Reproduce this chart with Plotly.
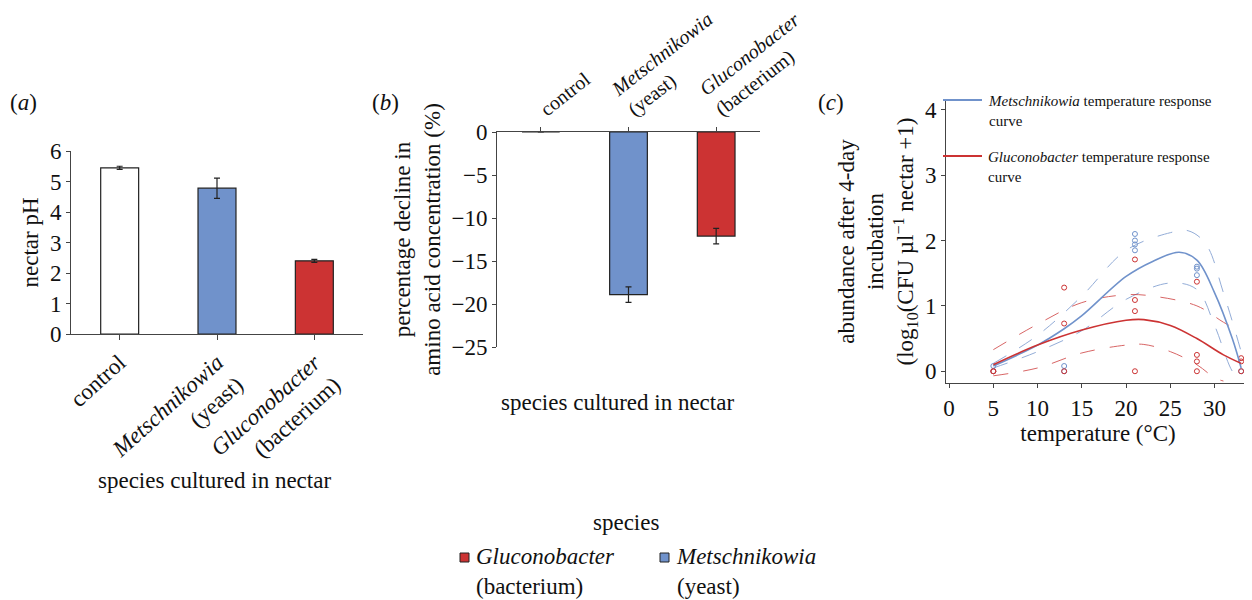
import plotly.graph_objects as go

W, H = 1252, 600
FONT = "Times New Roman, Liberation Serif, DejaVu Serif, serif"
BLUE = "#7092cb"
RED = "#cc3333"

# panel a
cats = ["control", "Metschnikowia", "Gluconobacter"]
a_labels = ["control", "<i>Metschnikowia</i><br>(yeast)", "<i>Gluconobacter</i><br>(bacterium)"]
ph_vals = [5.45, 4.78, 2.40]
ph_err = [0.05, 0.33, 0.05]
# panel b
aa_vals = [0.0, -18.9, -12.1]
aa_err = [0.0, 0.9, 0.9]
# panel c points
t_blue = [5, 5, 13, 13, 21, 21, 21, 21, 28, 28, 28, 33]
y_blue = [0.08, 0, 0.08, 0, 2.1, 2.0, 1.94, 1.85, 1.6, 1.57, 1.47, 0]
t_red = [5, 5, 13, 13, 13, 21, 21, 21, 21, 28, 28, 28, 28, 33, 33, 33]
y_red = [0, 0, 1.28, 0.73, 0, 1.71, 1.09, 0.92, 0, 1.37, 0.25, 0.15, 0, 0.2, 0.15, 0]
# curves
cb_t = [5, 10, 13, 15, 20, 23, 26, 28, 30, 32, 33]
cb_y = [0.08, 0.4, 0.65, 0.85, 1.45, 1.68, 1.82, 1.7, 1.2, 0.5, 0.05]
cbu_t = [5, 10, 15, 20, 25, 27, 29, 31, 33]
cbu_y = [0.12, 0.55, 1.15, 1.85, 2.12, 2.15, 1.95, 1.2, 0.3]
cbl_t = [5, 10, 15, 20, 25, 28, 30, 32, 33]
cbl_y = [0.05, 0.3, 0.62, 1.1, 1.35, 1.25, 0.7, 0.0, -0.15]
cr_t = [5, 10, 15, 20, 22, 25, 28, 31, 33]
cr_y = [0.1, 0.4, 0.63, 0.78, 0.79, 0.7, 0.5, 0.25, 0.12]
cru_t = [5, 10, 15, 20, 23, 28, 31, 33]
cru_y = [0.33, 0.72, 1.05, 1.17, 1.15, 1.0, 0.75, 0.6]
crl_t = [5, 10, 15, 20, 22, 25, 28, 30, 31]
crl_y = [-0.07, 0.05, 0.28, 0.4, 0.41, 0.3, 0.1, -0.1, -0.15]

OFF = 8  # page margin
def px(x): return (x - OFF) / W
def py(y): return 1 - (y - OFF) / H

fig = go.Figure()
fig.add_trace(go.Bar(x=cats, y=ph_vals, marker=dict(color=["white", BLUE, RED], line=dict(color="#222", width=1.2)),
                     error_y=dict(type="data", array=ph_err, color="#222", thickness=1.2, width=3),
                     width=0.39, xaxis="x", yaxis="y", showlegend=False))
fig.add_trace(go.Bar(x=cats, y=aa_vals, marker=dict(color=["white", BLUE, RED], line=dict(color="#222", width=1.2)),
                     error_y=dict(type="data", array=aa_err, color="#222", thickness=1.2, width=3),
                     width=0.43, xaxis="x2", yaxis="y2", showlegend=False))
for t, y, c in [(t_blue, y_blue, BLUE), (t_red, y_red, RED)]:
    fig.add_trace(go.Scatter(x=t, y=y, mode="markers", marker=dict(symbol="circle-open", size=5, color=c, line=dict(width=1)),
                             xaxis="x3", yaxis="y3", showlegend=False))
for t, y, c, d in [(cbu_t, cbu_y, BLUE, "longdash"), (cbl_t, cbl_y, BLUE, "longdash"),
                   (cru_t, cru_y, RED, "longdash"), (crl_t, crl_y, RED, "longdash"),
                   (cb_t, cb_y, BLUE, "solid"), (cr_t, cr_y, RED, "solid")]:
    fig.add_trace(go.Scatter(x=t, y=y, mode="lines", line=dict(color=c, width=1.6 if d == "solid" else 1, dash=d, shape="spline"),
                             opacity=1 if d == "solid" else 0.75, xaxis="x3", yaxis="y3", showlegend=False))

ax = dict(showline=True, linecolor="#444", ticks="outside", ticklen=4, tickcolor="#444", showgrid=False, zeroline=False,
          automargin=False, tickfont=dict(size=23, family=FONT, color="#111"))
TF = dict(size=23, family=FONT, color="#111")
fig.update_layout(
    width=W, height=H, margin=dict(l=0, r=0, t=0, b=0), plot_bgcolor="white", paper_bgcolor="white",
    font=dict(family=FONT, color="#111"),
    xaxis=dict(ax, domain=[px(71), px(363)], anchor="y", tickvals=cats, ticktext=a_labels, tickangle=-42, ticklen=5),
    yaxis=dict(ax, domain=[py(334), py(151)], anchor="x", range=[0, 6], dtick=1,
               title=dict(text="nectar pH", font=TF, standoff=4)),
    xaxis2=dict(ax, domain=[px(497), px(760)], anchor="y2", side="top", tickvals=cats, ticktext=a_labels, tickangle=-38,
                tickfont=dict(size=20, family=FONT, color="#111")),
    yaxis2=dict(ax, domain=[py(347), py(132)], anchor="x2", range=[-25, 0], dtick=5,
                title=dict(text="percentage decline in<br>amino acid concentration (%)", font=TF, standoff=4)),
    xaxis3=dict(ax, domain=[px(946), px(1250)], anchor="y3", range=[-0.35, 34], tickvals=[0, 5, 10, 15, 20, 25, 30],
                title=dict(text="temperature (°C)", font=TF, standoff=2)),
    yaxis3=dict(ax, domain=[py(383), py(100)], anchor="x3", range=[-0.18, 4.15], tickvals=[0, 1, 2, 3, 4],
                title=dict(text="abundance after 4-day<br>incubation<br>(log<sub>10</sub>(CFU µl<sup>−1</sup> nectar +1)",
                           font=TF, standoff=4)),
)
L = "left"
ann = [
    dict(x=px(8), y=py(102), text="(<i>a</i>)", font=TF, xanchor=L),
    dict(x=px(370), y=py(102), text="(<i>b</i>)", font=TF, xanchor=L),
    dict(x=px(816), y=py(102), text="(<i>c</i>)", font=TF, xanchor=L),
    dict(x=px(214), y=py(480), text="species cultured in nectar", font=TF, xanchor="center"),
    dict(x=px(617), y=py(402), text="species cultured in nectar", font=TF, xanchor="center"),
    dict(x=px(986), y=py(111), text="<i>Metschnikowia</i> temperature response<br>curve", font=dict(size=15, family=FONT), align=L, xanchor=L),
    dict(x=px(986), y=py(167), text="<i>Gluconobacter</i> temperature response<br>curve", font=dict(size=15, family=FONT), align=L, xanchor=L),
    dict(x=px(626), y=py(522), text="species", font=TF, xanchor="center"),
    dict(x=px(474), y=py(571), text="<i>Gluconobacter</i><br>(bacterium)", font=TF, align=L, xanchor=L),
    dict(x=px(674), y=py(571), text="<i>Metschnikowia</i><br>(yeast)", font=TF, align=L, xanchor=L),
]
for a in ann:
    a.update(xref="paper", yref="paper", showarrow=False, yanchor="middle")
    fig.add_annotation(**a)
shapes = [
    dict(type="line", x0=px(943), x1=px(982), y0=py(100), y1=py(100), line=dict(color=BLUE, width=2)),
    dict(type="line", x0=px(943), x1=px(982), y0=py(156), y1=py(156), line=dict(color=RED, width=2)),
    dict(type="rect", x0=px(460), x1=px(469), y0=py(553), y1=py(562), fillcolor=RED, line=dict(color="#222", width=1)),
    dict(type="rect", x0=px(660), x1=px(669), y0=py(553), y1=py(562), fillcolor=BLUE, line=dict(color="#222", width=1)),
]
for s in shapes:
    s.update(xref="paper", yref="paper")
    fig.add_shape(**s)
fig.write_html("out.html")
